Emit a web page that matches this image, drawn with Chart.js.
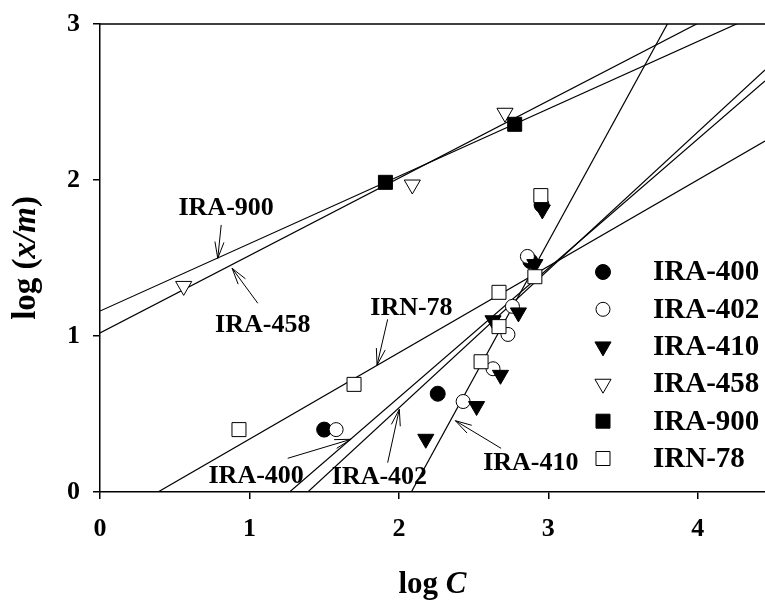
<!DOCTYPE html>
<html>
<head>
<meta charset="utf-8">
<script src="https://cdn.jsdelivr.net/npm/chart.js@4.4.0/dist/chart.umd.min.js"></script>
<style>
  body { margin: 0; background: #fff; }
</style>
</head>
<body>
<canvas id="isoChart" width="765" height="607"></canvas>
<script>
// series (legend order)
const seriesNames = ['IRA-400', 'IRA-402', 'IRA-410', 'IRA-458', 'IRA-900', 'IRN-78'];

// measured points, log C / log(x/m)
const ira400X = [1.50, 2.26, 2.88, 2.955];
const ira400Y = [0.40, 0.63, 1.48, 1.84];
const ira402X = [1.58, 2.43, 2.63, 2.73, 2.76, 2.86];
const ira402Y = [0.40, 0.58, 0.79, 1.01, 1.19, 1.51];
const ira410X = [2.18, 2.52, 2.68, 2.63, 2.80, 2.91, 2.96];
const ira410Y = [0.34, 0.55, 0.75, 1.10, 1.15, 1.46, 1.81];
const ira458X = [0.56, 2.09, 2.71];
const ira458Y = [1.32, 1.97, 2.43];
const ira900X = [1.91, 2.775];
const ira900Y = [1.985, 2.357];
const irn78X = [0.93, 1.70, 2.55, 2.67, 2.67, 2.91, 2.95];
const irn78Y = [0.40, 0.69, 0.835, 1.06, 1.28, 1.38, 1.90];

// fitted Freundlich lines: log(x/m) = b + n*log C
const lineIntercepts = [-1.050, -1.229, -3.648, 1.02, 1.16, -0.215];
const lineSlopes = [0.828, 0.884, 1.751, 0.496, 0.432, 0.554];

// axis ticks
const xTicks = [0, 1, 2, 3, 4];
const yTicks = [0, 1, 2, 3];
const xMin = 0, xMax = 4.45, yMin = 0, yMax = 3;

const pointXs = [ira400X, ira402X, ira410X, ira458X, ira900X, irn78X];
const pointYs = [ira400Y, ira402Y, ira410Y, ira458Y, ira900Y, irn78Y];

// marker look per series
const markerStyle = [
  { style: 'circle', fill: '#000', r: 7.5, rot: 0 },
  { style: 'circle', fill: '#fff', r: 7, rot: 0 },
  { style: 'triangle', fill: '#000', r: 9.3, rot: 180 },
  { style: 'triangle', fill: '#fff', r: 9.3, rot: 180 },
  { style: 'rect', fill: '#000', r: 9.9, rot: 0 },
  { style: 'rect', fill: '#fff', r: 9.9, rot: 0 }
];

// line labels: text position and arrow (from -> tip), in data units
const lineLabels = [
  { text: 'IRA-400', x: 1.045, y: 0.10, ax: 1.256, ay: 0.216, tx: 1.680, ty: 0.338 },
  { text: 'IRA-402', x: 1.870, y: 0.093, ax: 1.925, ay: 0.188, tx: 2.003, ty: 0.530 },
  { text: 'IRA-410', x: 2.883, y: 0.186, ax: 2.684, ay: 0.280, tx: 2.378, ty: 0.457 },
  { text: 'IRA-458', x: 1.089, y: 1.071, ax: 1.056, ay: 1.210, tx: 0.884, ty: 1.434 },
  { text: 'IRA-900', x: 0.844, y: 1.819, ax: 0.811, ay: 1.712, tx: 0.788, ty: 1.498 },
  { text: 'IRN-78', x: 2.084, y: 1.178, ax: 1.925, ay: 1.107, tx: 1.854, ty: 0.814 }
];

const serif = "'Liberation Serif', 'Times New Roman', serif";

let datasets = [];
seriesNames.forEach(function (name, i) {
  const m = markerStyle[i];
  datasets.push({
    label: name,
    data: pointXs[i].map(function (x, k) { return { x: x, y: pointYs[i][k] }; }),
    pointStyle: m.style,
    pointRotation: m.rot,
    pointRadius: m.r,
    pointHoverRadius: m.r,
    pointBackgroundColor: m.fill,
    pointBorderColor: '#000',
    pointBorderWidth: 1,
    showLine: false,
    order: 5 - i
  });
});
seriesNames.forEach(function (name, i) {
  datasets.push({
    label: name + ' fit',
    data: [xMin, xMax].map(function (x) { return { x: x, y: lineIntercepts[i] + lineSlopes[i] * x }; }),
    showLine: true,
    pointRadius: 0,
    borderColor: '#000',
    borderWidth: 1.2,
    fill: false,
    order: 10
  });
});

function drawArrow(ctx, x1, y1, x2, y2) {
  const ang = Math.atan2(y2 - y1, x2 - x1);
  const head = 17, spread = 0.27;
  ctx.beginPath();
  ctx.moveTo(x1, y1);
  ctx.lineTo(x2, y2);
  ctx.moveTo(x2 - head * Math.cos(ang - spread), y2 - head * Math.sin(ang - spread));
  ctx.lineTo(x2, y2);
  ctx.lineTo(x2 - head * Math.cos(ang + spread), y2 - head * Math.sin(ang + spread));
  ctx.stroke();
}

// draws mixed bold / bold-italic text centred on x
function drawRichText(ctx, parts, cx, cy, size) {
  let total = 0;
  parts.forEach(function (p) {
    ctx.font = (p.italic ? 'italic ' : '') + 'bold ' + size + 'px ' + serif;
    p.w = ctx.measureText(p.t).width;
    total += p.w;
  });
  let x = cx - total / 2;
  parts.forEach(function (p) {
    ctx.font = (p.italic ? 'italic ' : '') + 'bold ' + size + 'px ' + serif;
    ctx.fillText(p.t, x, cy);
    x += p.w;
  });
}

const extrasPlugin = {
  id: 'extras',
  afterDraw: function (chart) {
    const ctx = chart.ctx;
    const xs = chart.scales.x, ys = chart.scales.y;
    const area = chart.chartArea;
    ctx.save();
    ctx.strokeStyle = '#000';
    ctx.fillStyle = '#000';

    // top frame line
    ctx.lineWidth = 1.5;
    ctx.beginPath();
    ctx.moveTo(area.left, area.top);
    ctx.lineTo(area.right, area.top);
    ctx.stroke();

    // line labels with arrows
    ctx.lineWidth = 1;
    ctx.textAlign = 'center';
    ctx.textBaseline = 'middle';
    ctx.font = 'bold 26px ' + serif;
    lineLabels.forEach(function (l) {
      ctx.fillText(l.text, xs.getPixelForValue(l.x), ys.getPixelForValue(l.y));
      drawArrow(ctx, xs.getPixelForValue(l.ax), ys.getPixelForValue(l.ay),
        xs.getPixelForValue(l.tx), ys.getPixelForValue(l.ty));
    });

    // legend inside the plot
    const legX = 603, legY = 272, legStep = 37.3;
    seriesNames.forEach(function (name, i) {
      const m = markerStyle[i];
      const y = legY + i * legStep;
      ctx.fillStyle = m.fill;
      ctx.strokeStyle = '#000';
      ctx.lineWidth = 1;
      Chart.helpers.drawPoint(ctx, { pointStyle: m.style, rotation: m.rot, radius: m.r, borderWidth: 1 }, legX, y);
      ctx.fillStyle = '#000';
      ctx.textAlign = 'left';
      ctx.font = 'bold 29px ' + serif;
      ctx.fillText(name, 653, y + 1);
    });

    // axis titles
    ctx.textAlign = 'left';
    ctx.textBaseline = 'middle';
    drawRichText(ctx, [{ t: 'log ' }, { t: 'C', italic: true }], (area.left + area.right) / 2, 585, 31);
    ctx.translate(26, (area.top + area.bottom) / 2);
    ctx.rotate(-Math.PI / 2);
    drawRichText(ctx, [{ t: 'log (' }, { t: 'x/m', italic: true }, { t: ')' }], 0, 0, 33);
    ctx.restore();
  }
};

Chart.defaults.font.family = serif;
Chart.defaults.color = '#000';

new Chart(document.getElementById('isoChart'), {
  type: 'scatter',
  data: { datasets: datasets },
  options: {
    responsive: false,
    animation: false,
    layout: { autoPadding: false, padding: { top: 24, right: 0, left: 0, bottom: 0 } },
    plugins: {
      legend: { display: false },
      tooltip: { enabled: false }
    },
    scales: {
      x: {
        type: 'linear',
        min: xMin,
        max: xMax,
        afterFit: function (s) { s.height = 115; s.paddingLeft = 0; s.paddingRight = 0; },
        afterBuildTicks: function (s) { s.ticks = xTicks.map(function (v) { return { value: v }; }); },
        grid: { drawOnChartArea: false, drawTicks: true, tickLength: 7, color: '#000', lineWidth: 1.5 },
        border: { display: true, color: '#000', width: 1.5 },
        ticks: { padding: 15, font: { size: 26, weight: 'bold' }, color: '#000' }
      },
      y: {
        type: 'linear',
        min: yMin,
        max: yMax,
        afterFit: function (s) { s.width = 100; s.paddingTop = 0; s.paddingBottom = 0; },
        afterBuildTicks: function (s) { s.ticks = yTicks.map(function (v) { return { value: v }; }); },
        grid: { drawOnChartArea: false, drawTicks: true, tickLength: 7, color: '#000', lineWidth: 1.5 },
        border: { display: true, color: '#000', width: 1.5 },
        ticks: { padding: 13, font: { size: 26, weight: 'bold' }, color: '#000' }
      }
    }
  },
  plugins: [extrasPlugin]
});
</script>
</body>
</html>
